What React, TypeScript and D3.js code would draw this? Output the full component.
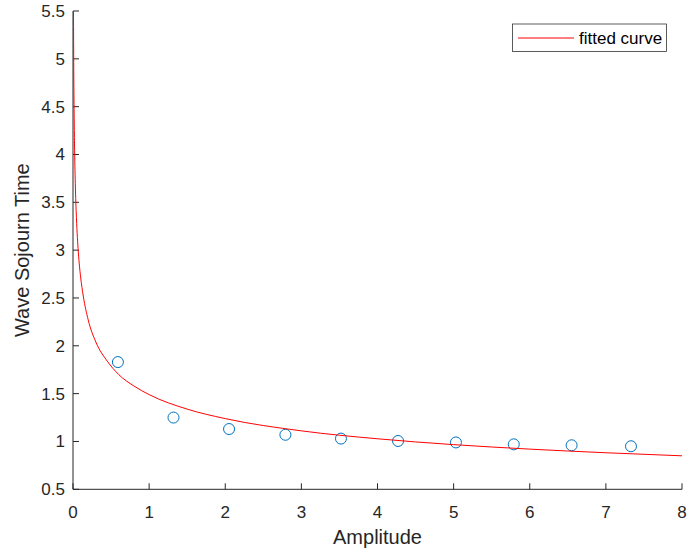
import React from "react";
import * as d3 from "d3";

const amplitude = [0.59, 1.32, 2.05, 2.79, 3.52, 4.27, 5.03, 5.79, 6.55, 7.33];
const sojourn = [1.83, 1.25, 1.13, 1.07, 1.03, 1.005, 0.99, 0.97, 0.96, 0.95];

const curveX = [0.0064, 0.01, 0.015, 0.02, 0.03, 0.045, 0.07, 0.1, 0.135, 0.2, 0.3, 0.45, 0.6, 0.8, 1, 1.5, 2, 3, 4, 5, 6, 7, 8];
const curveY = [5.5, 4.9, 4.42, 4.11, 3.7, 3.34, 2.98, 2.72, 2.52, 2.27, 2.04, 1.84, 1.7, 1.58, 1.49, 1.338, 1.239, 1.111, 1.028, 0.967, 0.92, 0.882, 0.85];

const xTicks = [0, 1, 2, 3, 4, 5, 6, 7, 8];
const yTicks = [0.5, 1, 1.5, 2, 2.5, 3, 3.5, 4, 4.5, 5, 5.5];

const W = 688, H = 553;
const L = 73, R = 682, T = 11, B = 489.3;
const axisColor = "#262626";
const font = "'Liberation Sans', Arial, Helvetica, sans-serif";

export default function App() {
  const x = d3.scaleLinear().domain([0, 8]).range([L, R]);
  const y = d3.scaleLinear().domain([0.5, 5.5]).range([B, T]);
  const line = d3
    .line<number>()
    .x((_, i) => x(curveX[i]))
    .y((_, i) => y(curveY[i]))
    .curve(d3.curveMonotoneX);
  const path = line(curveX) || "";

  return (
    <svg width={W} height={H} style={{ position: "absolute", left: 0, top: 0, background: "#fff" }} fontFamily={font}>
      <defs>
        <clipPath id="plotclip">
          <rect x={L} y={T} width={R - L} height={B - T} />
        </clipPath>
      </defs>
      <rect x={0} y={0} width={W} height={H} fill="#fff" />
      <line x1={L} x2={R} y1={B} y2={B} stroke={axisColor} strokeWidth={1} />
      <line x1={L} x2={L} y1={T} y2={B} stroke={axisColor} strokeWidth={1} />
      {xTicks.map((t) => (
        <g key={"xt" + t}>
          <line x1={x(t)} x2={x(t)} y1={B} y2={B - 6} stroke={axisColor} strokeWidth={1} />
          <text x={x(t)} y={518} textAnchor="middle" fontSize={17} fill={axisColor}>
            {t}
          </text>
        </g>
      ))}
      {yTicks.map((t) => (
        <g key={"yt" + t}>
          <line x1={L} x2={L + 6} y1={y(t)} y2={y(t)} stroke={axisColor} strokeWidth={1} />
          <text x={65} y={y(t) + 6} textAnchor="end" fontSize={17} fill={axisColor}>
            {t}
          </text>
        </g>
      ))}
      <text x={(L + R) / 2} y={544} textAnchor="middle" fontSize={20} fill={axisColor}>
        Amplitude
      </text>
      <text
        transform={`translate(28.5, ${(T + B) / 2}) rotate(-90)`}
        textAnchor="middle"
        fontSize={20}
        fill={axisColor}
      >
        Wave Sojourn Time
      </text>
      {amplitude.map((a, i) => (
        <circle key={"p" + i} cx={x(a)} cy={y(sojourn[i])} r={5.5} fill="none" stroke="#0072BD" strokeWidth={1} />
      ))}
      <path d={path} fill="none" stroke="#FF0000" strokeWidth={1} clipPath="url(#plotclip)" />
      <rect x={512.5} y={24} width={154} height={27.5} fill="#fff" stroke={axisColor} strokeWidth={0.75} />
      <line x1={518} x2={574} y1={38} y2={38} stroke="#FF0000" strokeWidth={1} />
      <text x={579} y={44} fontSize={17} fill="#000">
        fitted curve
      </text>
    </svg>
  );
}
